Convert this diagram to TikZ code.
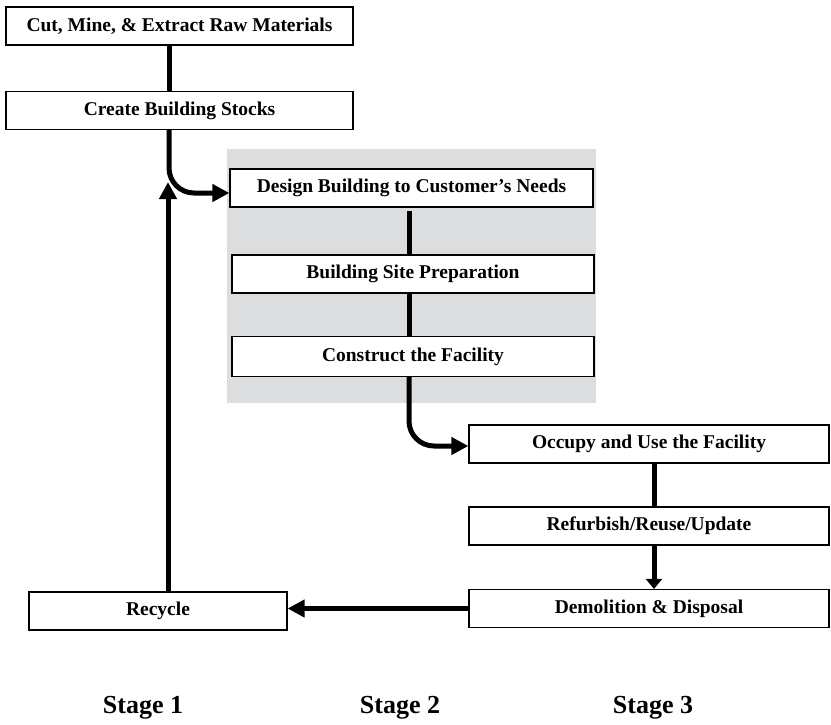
\documentclass[tikz,border=0pt]{standalone}
\usepackage{fontspec}
\setmainfont{Liberation Serif}
\usetikzlibrary{arrows.meta}
\definecolor{stagegray}{RGB}{220,221,222}
\begin{document}
\begin{tikzpicture}[x=1pt, y=-1pt,
        every node/.style={draw, line width=1.2pt, fill=white, inner sep=0pt, minimum height=38pt, font=\bfseries\fontsize{19.5}{22}\selectfont},
        flow/.style={line width=5pt, black},
        tip/.style={-{Triangle[length=17pt,width=17pt]}},
        stagelabel/.style={draw=none, fill=none, font=\bfseries\fontsize{26}{28}\selectfont}]
            \useasboundingbox (0,0) rectangle (831,724);
            \fill[stagegray] (227,149) rectangle (596,403);
            \node[minimum width=347pt] (cut) at (179.5,26) {Cut, Mine, \& Extract Raw Materials};
            \node[minimum width=347pt] (stocks) at (179.5,110.5) {Create Building Stocks};
            \node[minimum width=363pt] (design) at (411.5,188) {Design Building to Customer’s Needs};
            \node[minimum width=362pt] (site) at (413,274) {Building Site Preparation};
            \node[minimum width=362pt, minimum height=40pt] (construct) at (413,356.5) {Construct the Facility};
            \node[minimum width=360pt] (occupy) at (649,444) {Occupy and Use the Facility};
            \node[minimum width=360pt] (refurb) at (649,526) {Refurbish/Reuse/Update};
            \node[minimum width=360pt] (demol) at (649,608.5) {Demolition \& Disposal};
            \node[minimum width=258pt] (recycle) at (158,611) {Recycle};
            \node[stagelabel] (stage1) at (143,708) {Stage 1};
            \node[stagelabel] (stage2) at (400,708) {Stage 2};
            \node[stagelabel] (stage3) at (653,708) {Stage 3};
            \coordinate (lane1) at (169,0);
            \coordinate (lane2) at (409,0);
            \coordinate (lane3) at (654,0);
            \coordinate (merge) at (168,182);
            \draw[flow] (cut.south -| lane1) -- (stocks.north -| lane1);
            \draw[flow, tip, rounded corners=25pt] (stocks.south -| lane1) |- ([yshift=-5pt]design.west);
            \draw[flow] ([yshift=-3pt]design.south -| lane2) -- (site.north -| lane2);
            \draw[flow] (site.south -| lane2) -- (construct.north -| lane2);
            \draw[flow, tip, rounded corners=25pt] (construct.south -| lane2) |- ([yshift=-2pt]occupy.west);
            \draw[flow] (occupy.south -| lane3) -- (refurb.north -| lane3);
            \draw[flow, -{Triangle[length=10pt,width=16pt]}] (refurb.south -| lane3) -- (demol.north -| lane3);
            \draw[flow, tip] (demol.west) -- (demol.west -| recycle.east);
            \draw[flow, tip] (recycle.north -| merge) -- (merge);
        \end{tikzpicture}
\end{document}
